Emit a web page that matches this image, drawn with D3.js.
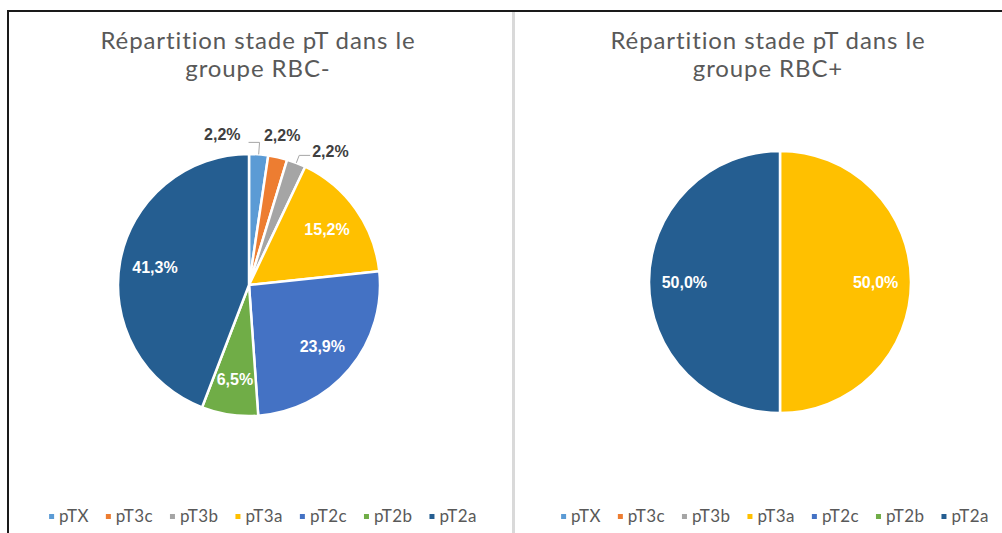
<!DOCTYPE html>
<html>
<head>
<meta charset="utf-8">
<script src="https://cdn.jsdelivr.net/npm/d3@7"></script>
<style>
  html, body { margin: 0; padding: 0; background: #fff; }
  svg { display: block; }
</style>
</head>
<body>
<svg id="chart" width="1002" height="533"></svg>
<script>
const categories = ["pTX", "pT3c", "pT3b", "pT3a", "pT2c", "pT2b", "pT2a"];
const rbcMinusValues = [2.2, 2.2, 2.2, 15.2, 23.9, 6.5, 41.3];
const rbcPlusValues = [0, 0, 0, 50.0, 0, 0, 50.0];
const titlesMinus = ["Répartition stade pT dans le", "groupe RBC-"];
const titlesPlus = ["Répartition stade pT dans le", "groupe RBC+"];

const sliceColors = ["#5b9bd5", "#ed7d31", "#a5a5a5", "#ffc000", "#4472c4", "#70ad47", "#255e91"];
const titleColor = "#595959";
const legendColor = "#595959";
const outsideLabelColor = "#404040";
const leaderColor = "#a6a6a6";

const pieR = 131;
const smallSliceLimit = 5;
const labelSize = "16px";
// where excel put the small labels, in slice order
const smallLabelSide = ["left", "top", "right"];

const svg = d3.select("#chart");
const W = 1002, H = 533;

svg.append("rect").attr("width", W).attr("height", H).attr("fill", "#fff");

// frame of the screenshot
svg.append("line")
    .attr("x1", 8).attr("x2", W).attr("y1", 11).attr("y2", 11)
    .attr("stroke", "#1a1a1a").attr("stroke-width", 2);
svg.append("line")
    .attr("x1", 8).attr("x2", 8).attr("y1", 10).attr("y2", H)
    .attr("stroke", "#1a1a1a").attr("stroke-width", 2);
svg.append("line")
    .attr("x1", 513.5).attr("x2", 513.5).attr("y1", 12).attr("y2", H)
    .attr("stroke", "#d9d9d9").attr("stroke-width", 3);

const fmt = (v) => d3.format(".1f")(v).replace(".", ",") + "%";

function drawPanel(opts) {
    const g = svg.append("g");

    // title
    const title = g.append("text")
        .attr("text-anchor", "middle")
        .style("font-family", "Lato, 'Open Sans', sans-serif")
        .style("font-size", "24px")
        .style("letter-spacing", "0.9px")
        .style("fill", titleColor);
    opts.titles.forEach((t, i) => {
        title.append("tspan").attr("x", opts.titleX).attr("y", 49 + i * 28).text(t);
    });

    // pie
    const data = categories.map((c, i) => ({ name: c, value: opts.values[i], color: sliceColors[i] }));
    const arcs = d3.pie().sort(null).value((d) => d.value)(data)
        .filter((a) => a.data.value > 0);

    const arc = d3.arc().innerRadius(0).outerRadius(pieR);
    const pieG = g.append("g").attr("transform", `translate(${opts.cx},${opts.cy})`);

    pieG.selectAll("path")
        .data(arcs)
        .join("path")
        .attr("d", arc)
        .attr("fill", (d) => d.data.color)
        .attr("stroke", "#fff")
        .attr("stroke-width", 2.5)
        .attr("stroke-linejoin", "round");

    // labels inside the big slices
    const labelArc = d3.arc().innerRadius(pieR * 0.73).outerRadius(pieR * 0.73);
    pieG.selectAll("text.inside")
        .data(arcs.filter((a) => a.data.value >= smallSliceLimit))
        .join("text")
        .attr("class", "inside")
        .attr("transform", (d) => `translate(${labelArc.centroid(d)})`)
        .attr("text-anchor", "middle")
        .attr("dy", "0.36em")
        .style("font-family", "'Liberation Sans', Arial, sans-serif")
        .style("font-weight", "bold")
        .style("font-size", labelSize)
        .style("fill", "#fff")
        .text((d) => fmt(d.data.value));

    // small slices: label outside with a leader
    const small = arcs.filter((a) => a.data.value < smallSliceLimit);
    small.forEach((d, i) => {
        const side = smallLabelSide[i] || "right";
        const mid = (d.startAngle + d.endAngle) / 2;
        const at = (r) => [Math.sin(mid) * r, -Math.cos(mid) * r];
        const p0 = at(pieR);
        if (side === "top") {
            const p = at(pieR + 20);
            pieG.append("text")
                .attr("x", p[0]).attr("y", p[1] + 3)
                .attr("text-anchor", "middle")
                .style("font-family", "'Liberation Sans', Arial, sans-serif")
                .style("font-weight", "bold")
                .style("font-size", labelSize)
                .style("fill", outsideLabelColor)
                .text(fmt(d.data.value));
            return;
        }
        const p1 = at(pieR + (side === "left" ? 12 : 8));
        const dir = side === "left" ? -1 : 1;
        const p2 = [p1[0] + dir * 11, p1[1]];
        pieG.append("polyline")
            .attr("points", [p0, p1, p2].map((p) => p.join(",")).join(" "))
            .attr("fill", "none")
            .attr("stroke", leaderColor)
            .attr("stroke-width", 1);
        pieG.append("text")
            .attr("x", p2[0] + dir * (side === "left" ? 8 : 2))
            .attr("y", p2[1] + (side === "left" ? -2 : 2))
            .attr("text-anchor", side === "left" ? "end" : "start")
            .style("font-family", "'Liberation Sans', Arial, sans-serif")
            .style("font-weight", "bold")
            .style("font-size", labelSize)
            .style("fill", outsideLabelColor)
            .text(fmt(d.data.value));
    });

    // legend
    const leg = g.append("g");
    let x = 0;
    const gap = 17;
    categories.forEach((c, i) => {
        const item = leg.append("g").attr("transform", `translate(${x},0)`);
        item.append("rect")
            .attr("x", 0).attr("y", -8)
            .attr("width", 5).attr("height", 5)
            .attr("fill", sliceColors[i]);
        const t = item.append("text")
            .attr("x", 10).attr("y", 0)
            .style("font-family", "Lato, 'Open Sans', sans-serif")
            .style("font-size", "17px")
            .style("letter-spacing", "0.4px")
            .style("fill", legendColor)
            .text(c);
        x += 10 + t.node().getComputedTextLength() + gap;
    });
    const legW = x - gap;
    leg.attr("transform", `translate(${opts.legendX - legW / 2},${opts.legendY})`);
}

drawPanel({
    titles: titlesMinus,
    values: rbcMinusValues,
    titleX: 258,
    cx: 249, cy: 285,
    legendX: 263, legendY: 522
});

drawPanel({
    titles: titlesPlus,
    values: rbcPlusValues,
    titleX: 768,
    cx: 780, cy: 282,
    legendX: 775, legendY: 522
});
</script>
</body>
</html>
